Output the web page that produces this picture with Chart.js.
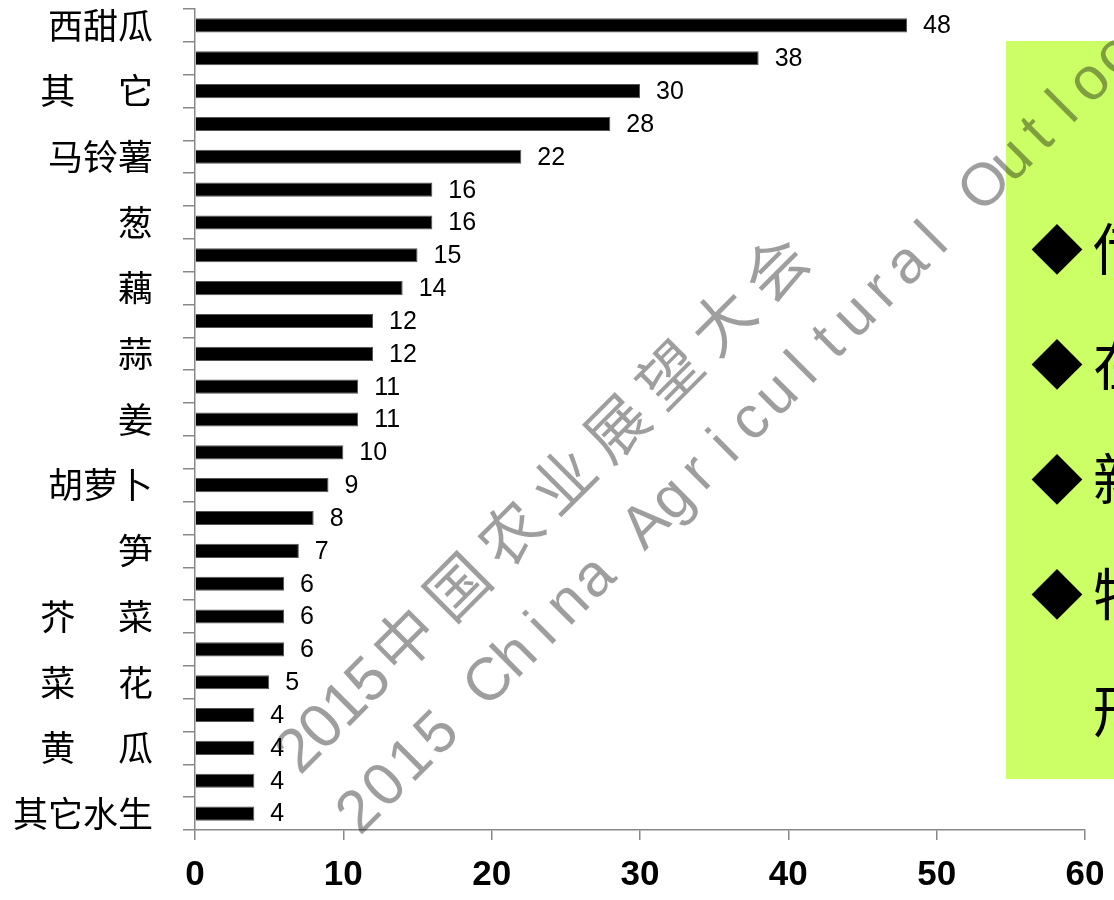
<!DOCTYPE html>
<html><head><meta charset="utf-8">
<script src="https://cdn.jsdelivr.net/npm/chart.js@4.4.0/dist/chart.umd.min.js"></script>
<style>html,body{margin:0;padding:0;background:#fff;overflow:hidden}</style>
</head><body>
<canvas id="c" width="1114" height="900"></canvas>
<script>
// ---- data ----
const categories = ['西甜瓜','','其　 它','','马铃薯','','葱','','藕','','蒜','','姜','','胡萝卜','','笋','','芥　 菜','','菜　 花','','黄　 瓜','','其它水生'];
const values = [48,38,30,28,22,16,16,15,14,12,12,11,11,10,9,8,7,6,6,6,5,4,4,4,4];
const xTicks = [0,10,20,30,40,50,60];
const watermarkCN = '2015中国农业展望大会';
const watermarkEN = '2015 China Agricultural Outlook';
const noteBullets = ['◆','◆','◆','◆',''];
const noteChars = ['传','在','新','特','形'];

const overlay = {
  id:'overlay',
  afterDatasetsDraw(chart){
    const ctx = chart.ctx, meta = chart.getDatasetMeta(0);
    ctx.save();
    ctx.font = '25px "Liberation Sans", Arial, sans-serif';
    ctx.fillStyle = '#000'; ctx.textBaseline = 'middle'; ctx.textAlign = 'left';
    meta.data.forEach((bar,i)=>{ ctx.fillText(String(values[i]), bar.x + 16, bar.y + 1); });
    ctx.restore();
  },
  afterDraw(chart){
    const ctx = chart.ctx;
    ctx.save();
    // green note box
    ctx.fillStyle = '#ccff66';
    ctx.fillRect(1006, 41, 120, 738);
    ctx.fillStyle = '#000';
    ctx.textBaseline = 'middle';
    const rows = [249, 364, 479, 594, 711];
    rows.forEach((y,i)=>{
      if (noteBullets[i]) {
        ctx.font = '52px "Noto Sans CJK SC", sans-serif';
        ctx.textAlign = 'center';
        ctx.fillText(noteBullets[i], 1057, y);
      }
      ctx.font = '56px "Noto Sans CJK SC", sans-serif';
      ctx.textAlign = 'left';
      ctx.fillText(noteChars[i], 1093, y);
    });
    // watermark
    ctx.fillStyle = 'rgba(0,0,0,0.38)';
    ctx.textAlign = 'center'; ctx.textBaseline = 'middle';
    // line 1
    ctx.save();
    ctx.translate(300, 752); ctx.rotate(-Math.PI/4);
    ctx.font = '62px "Liberation Sans", "Noto Sans CJK SC", sans-serif';
    let cur = 0, first = true;
    for (const ch of watermarkCN) {
      const adv = /[0-9]/.test(ch) ? 33 : 75;
      if (first) { ctx.fillText(ch, 0, 0); cur = adv/2; first = false; continue; }
      ctx.fillText(ch, cur + adv/2, 0);
      cur += adv;
    }
    ctx.restore();
    // line 2
    ctx.save();
    ctx.translate(360, 813); ctx.rotate(-Math.PI/4);
    ctx.font = '60px "Liberation Sans", sans-serif';
    for (let i=0;i<watermarkEN.length;i++) ctx.fillText(watermarkEN[i], i*36.9, 0);
    ctx.restore();
    ctx.restore();
  }
};

new Chart(document.getElementById('c'), {
  type:'bar',
  data:{ labels:categories, datasets:[{ data:values, backgroundColor:'#000', borderColor:'#555', borderWidth:1, barPercentage:0.43, categoryPercentage:1 }]},
  options:{
    responsive:false, animation:false, indexAxis:'y',
    layout:{ padding:{ top:9, right:29, left:0, bottom:0 } },
    plugins:{ legend:{display:false}, tooltip:{enabled:false} },
    scales:{
      x:{ min:0, max:60,
          afterBuildTicks(s){ s.ticks = xTicks.map(v=>({value:v})); },
          ticks:{ font:{ family:'"Liberation Sans", Arial, sans-serif', size:35, weight:'bold' }, color:'#000', padding:14, maxRotation:0 },
          grid:{ drawOnChartArea:false, tickLength:10, color:'#888', lineWidth:1.5 },
          border:{ color:'#888', width:1.5 },
          afterFit(s){ s.height = 70; s.paddingLeft = 0; s.paddingRight = 0; } },
      y:{ ticks:{ autoSkip:false, font:{ family:'"Noto Sans CJK SC", sans-serif', size:35 }, color:'#000', padding:30 },
          grid:{ offset:true, drawOnChartArea:false, tickLength:12, color:'#888', lineWidth:1.5 },
          border:{ color:'#888', width:1.5 },
          afterFit(s){ s.width = 195; s.paddingTop = 0; s.paddingBottom = 0; } }
    }
  },
  plugins:[overlay]
});
</script>
</body></html>
